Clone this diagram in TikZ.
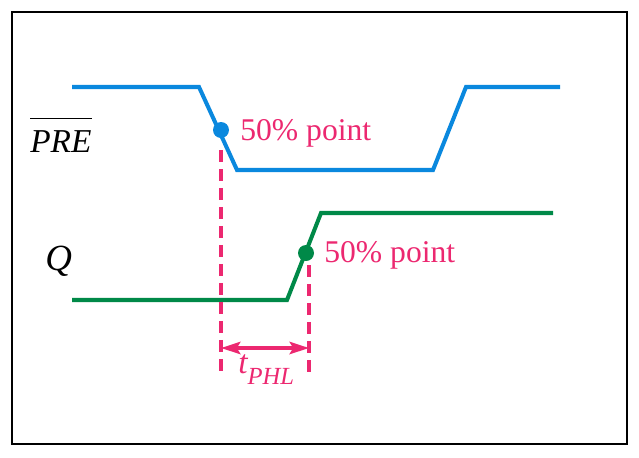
\documentclass[tikz,border=0pt]{standalone}
\usepackage{fontspec}
\setmainfont{Liberation Serif}
\usetikzlibrary{arrows.meta,positioning}

\definecolor{preblue}{RGB}{10,136,222}
\definecolor{qgreen}{RGB}{0,137,72}
\definecolor{markpink}{RGB}{236,40,112}

\begin{document}
\begin{tikzpicture}
[x=0.02cm, y=-0.02cm,
% STYLES
wave/.style={line width=2.3pt},
dot/.style={circle, inner sep=0pt, minimum size=0.32cm},
note/.style={inner sep=0pt, anchor=base west, text=markpink, font=\fontsize{18}{21}\selectfont},
siglabel/.style={inner sep=0pt, anchor=base west, font=\fontsize{21}{24}\selectfont\itshape},
guide/.style={markpink, line width=2.3pt, dash pattern=on 0.24cm off 0.14cm},
span/.style={markpink, line width=2pt, {Stealth[length=11pt,width=7pt,inset=2pt]}-{Stealth[length=11pt,width=7pt,inset=2pt]}}]

\useasboundingbox (0,0) rectangle (639,457);

% frame
\draw[line width=1.6pt] (12,12) rectangle (627,444);

% signal names
\node [siglabel, font=\fontsize{19}{22}\selectfont\itshape] (pre) at (30,152) {$\overline{\rule{0pt}{0.92em}\mbox{\itshape PRE}}$};
\node [siglabel] (q) at (45,270) {Q};

% waveforms
\draw[wave, preblue] (72,87) -- (199,87) -- (237,170) -- (433,170) -- (466,87) -- (560,87);
\draw[wave, qgreen] (72,300) -- (287,300) -- (321,213) -- (553,213);

% 50% points
\node [dot, fill=preblue] (pre50) at (221,130) {};
\node [dot, fill=qgreen] (q50) at (306,253) {};
\node [note] (pre50-text) at (240,140) {50\% point};
\node [note] (q50-text) at (324,262) {50\% point};

% delay
\coordinate (pre-top) at (221,150);
\coordinate (pre-bot) at (221,373);
\coordinate (q-top) at (309,265);
\coordinate (q-bot) at (309,373);
\draw[guide] (pre-top) -- (pre-bot);
\draw[guide] (q-top) -- (q-bot);
\draw[span] (pre-top |- 0,348) -- (q-top |- 0,348);

\node [note, anchor=base west] (tphl) at (238,373) {\fontsize{19}{22}\selectfont\itshape t\raisebox{-0.33em}{\fontsize{14}{16}\selectfont PHL}};

\end{tikzpicture}
\end{document}
